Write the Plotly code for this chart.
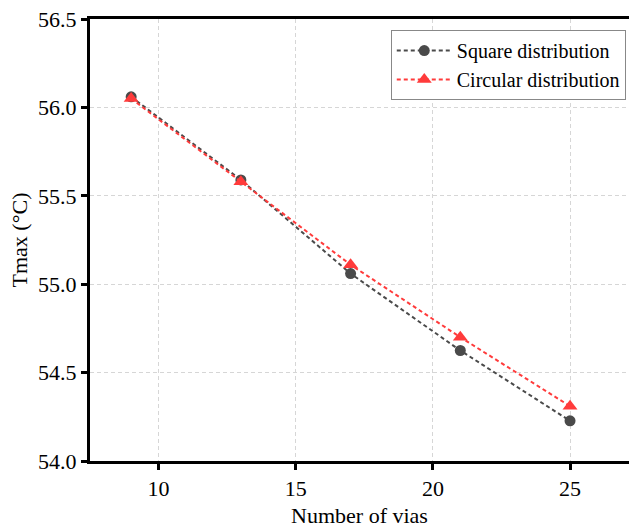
import plotly.graph_objects as go

vias = [9, 13, 17, 21, 25]
square_tmax = [56.06, 55.59, 55.06, 54.625, 54.227]
circular_tmax = [56.05, 55.58, 55.11, 54.70, 54.31]

x_ticks = [10, 15, 20, 25]
y_ticks = [54.0, 54.5, 55.0, 55.5, 56.0, 56.5]
y_tick_labels = ["54.0", "54.5", "55.0", "55.5", "56.0", "56.5"]

FONT = "Liberation Serif, serif"

fig = go.Figure()
fig.add_trace(go.Scatter(
    x=vias, y=square_tmax, name="Square distribution",
    mode="lines+markers",
    line=dict(color="#4a4a4a", width=2, dash="4px,3px"),
    marker=dict(symbol="circle", size=11, color="#4a4a4a"),
))
fig.add_trace(go.Scatter(
    x=vias, y=circular_tmax, name="Circular distribution",
    mode="lines+markers",
    line=dict(color="#ff3b3b", width=2, dash="4px,3px"),
    marker=dict(symbol="triangle-up", size=13, color="#ff3b3b"),
))

fig.update_layout(
    width=629, height=528,
    margin=dict(l=90, r=0, t=19, b=67, autoexpand=False),
    paper_bgcolor="white", plot_bgcolor="white",
    font=dict(family=FONT, size=21, color="black"),
    showlegend=True,
    legend=dict(
        x=0.994, y=0.975, xanchor="right", yanchor="top",
        bgcolor="white", bordercolor="#888888", borderwidth=1,
        font=dict(family=FONT, size=20, color="black"),
        tracegroupgap=0, itemwidth=55,
    ),
    xaxis=dict(
        range=[7.5, 27.15],
        tickvals=x_ticks,
        ticks="outside", ticklen=6, tickwidth=2.5, tickcolor="black",
        showline=True, linewidth=3, linecolor="black", mirror=True,
        showgrid=True, gridcolor="#d6d6d6", gridwidth=1, griddash="4px,3px",
        zeroline=False, automargin=False,
        tickfont=dict(family=FONT, size=22),
        title=dict(text="Number of vias", font=dict(family=FONT, size=22), standoff=14),
    ),
    yaxis=dict(
        range=[54.0, 56.5],
        tickvals=y_ticks, ticktext=y_tick_labels,
        ticks="outside", ticklen=6, tickwidth=2.5, tickcolor="black",
        showline=True, linewidth=3, linecolor="black", mirror=False,
        showgrid=True, gridcolor="#d6d6d6", gridwidth=1, griddash="4px,3px",
        zeroline=False, automargin=False,
        tickfont=dict(family=FONT, size=22),
        title=dict(text="Tmax (°C)", font=dict(family=FONT, size=22), standoff=5),
    ),
)

fig.write_html(
    "out.html",
    config={"displayModeBar": False},
    post_script="document.body.style.margin='0';document.body.style.overflow='hidden';",
)
